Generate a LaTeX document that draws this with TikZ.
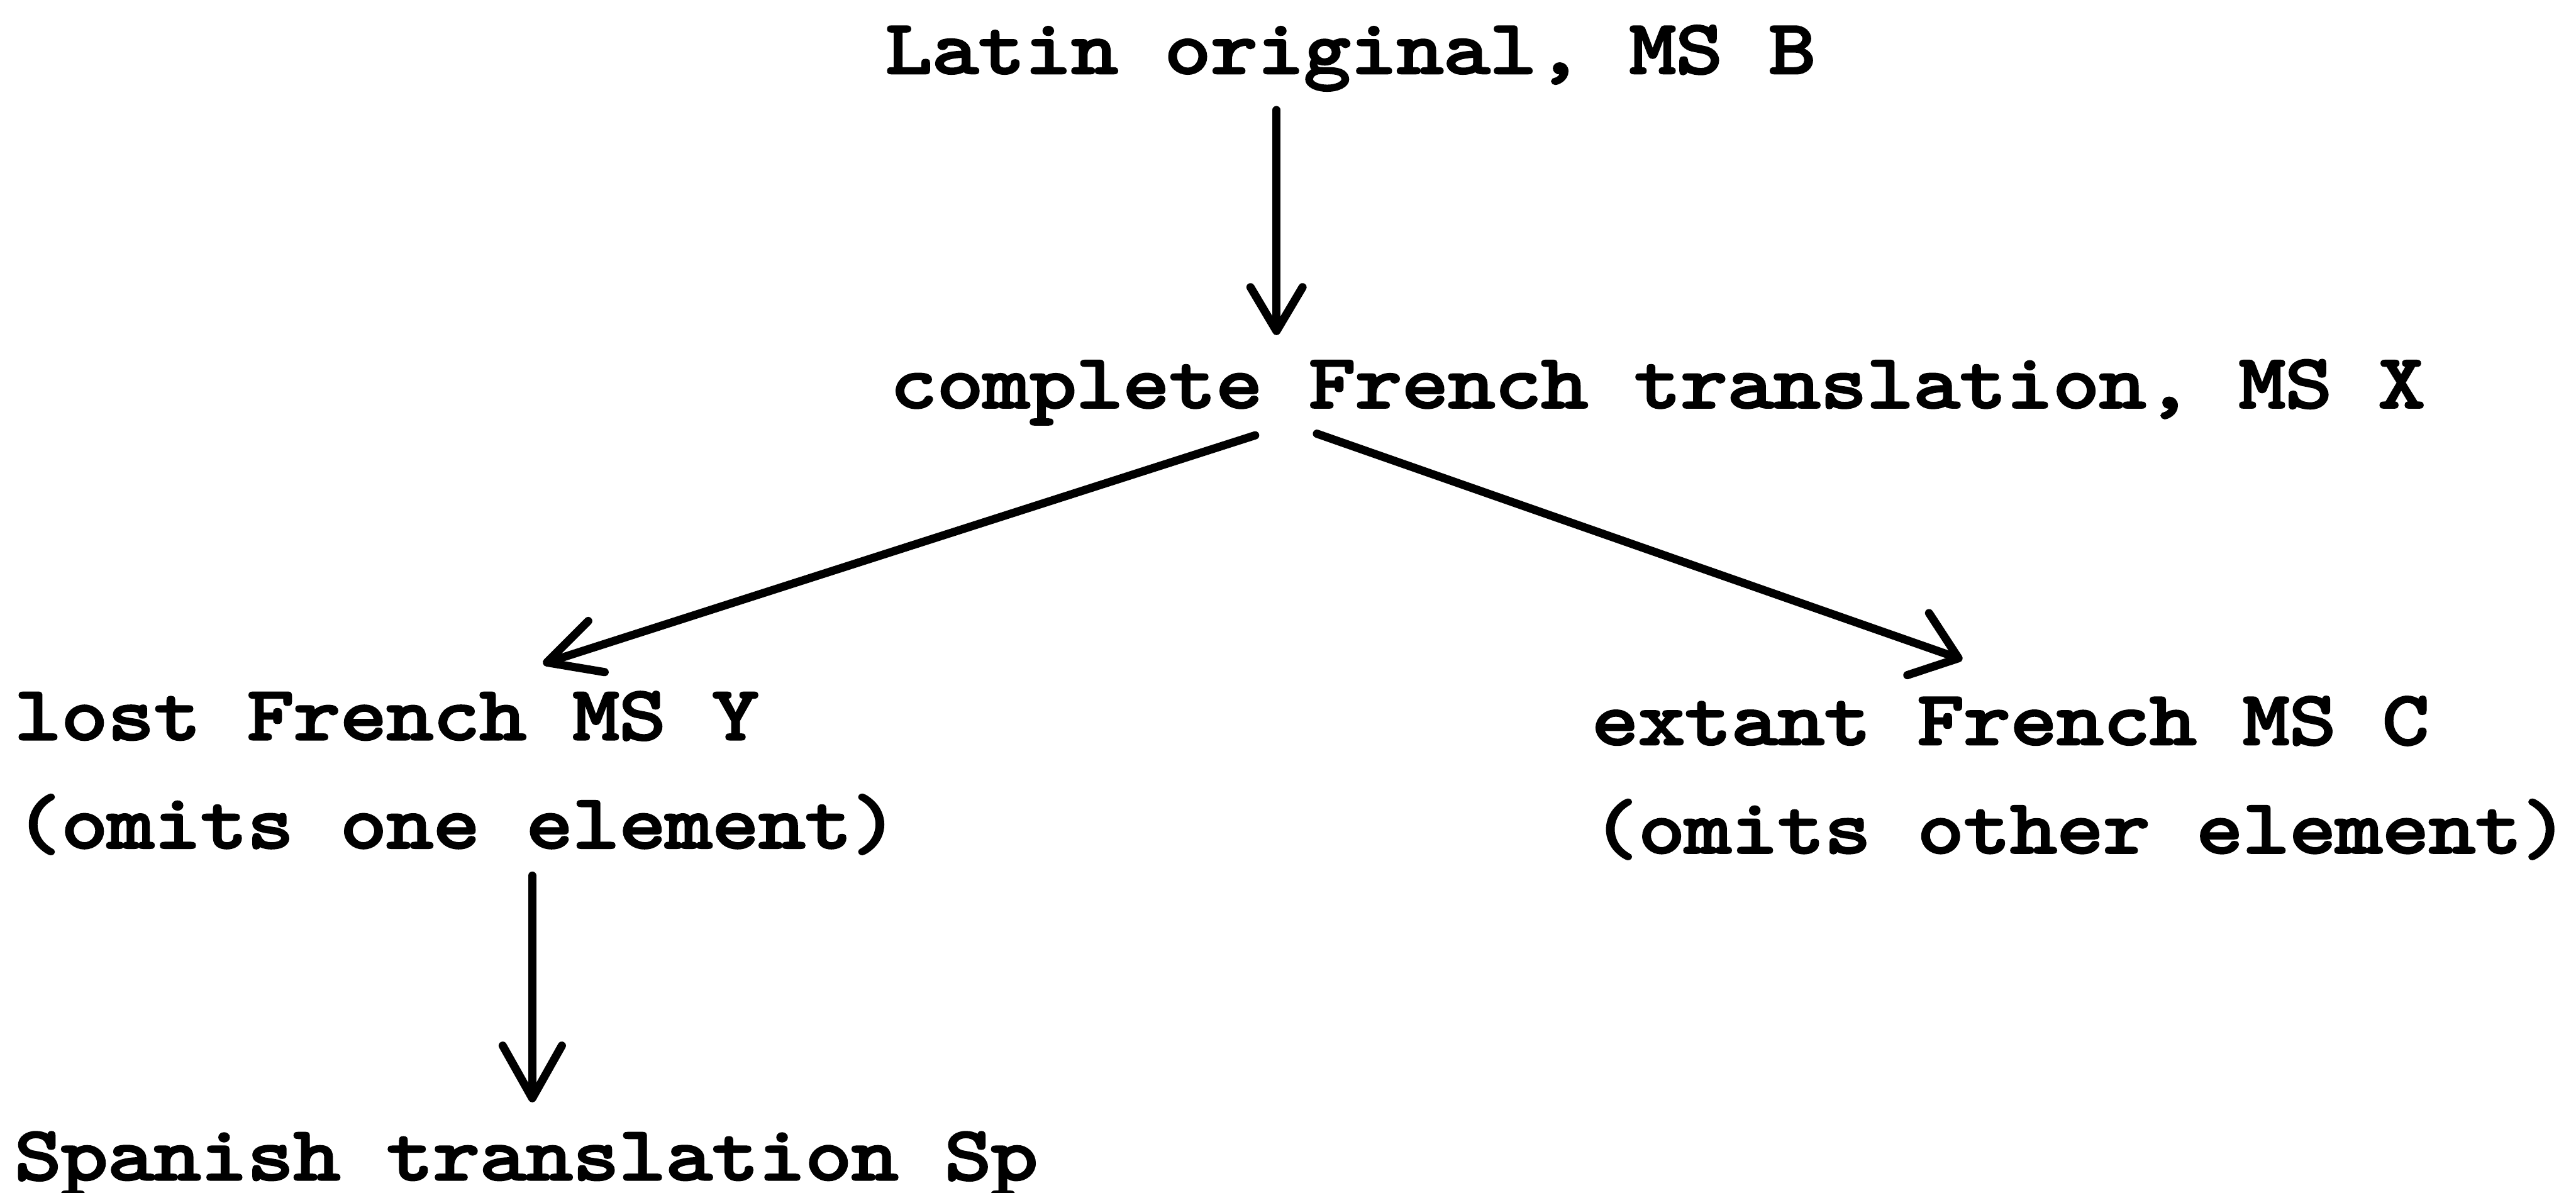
\documentclass[tikz,border=0pt]{standalone}
\usepackage{fontspec}
\newfontfamily\typewriter{lmmono10-regular.otf}[FakeStretch=1.165,FakeBold=3.5]
\usetikzlibrary{arrows.meta,calc}
\begin{document}
\begin{tikzpicture}[x=0.03cm,y=-0.03cm,
  typed/.style={anchor=base west, inner sep=0pt, outer sep=0pt,
    font=\typewriter\fontsize{39.5pt}{48pt}\selectfont},
  link/.style={line width=0.15cm, line cap=round},
  downhead/.style={-{Straight Barb[length=0.8cm,width=0.95cm,round]}},
  longhead/.style={-{Straight Barb[length=0.96cm,width=1.08cm,round]}},
  lefthead/.style={-{Straight Barb[length=0.95cm,width=0.98cm,round]}},
  righthead/.style={-{Straight Barb[length=0.78cm,width=1.2cm,round]}}]
\useasboundingbox (0,0) rectangle (1568,726);

% stemma entries
\node[typed] (latin)    at (539,44.5) {Latin original, MS B};
\node[typed] (complete) at (542,248)  {complete French translation, MS X};
\node[typed] (lostY)    at (9,450)    {lost French MS Y};
\node[typed] (omitsY)   at (9,516)    {(omits one element)};
\node[typed] (extantC)  at (969,453)  {extant French MS C};
\node[typed] (omitsC)   at (969,519)  {(omits other element)};
\node[typed] (spanish)  at (9,718)    {Spanish translation Sp};

% lines of descent
\draw[link,downhead]  ($(latin.base west)+(238,22.5)$)   -- ($(complete.base west)+(235,-44)$);
\draw[link,lefthead]  ($(complete.base west)+(222,17)$)  -- ($(lostY.base west)+(321.5,-46)$);
\draw[link,righthead] ($(complete.base west)+(259.6,16)$) -- ($(extantC.base west)+(225.5,-51.5)$);
\draw[link,longhead]  ($(omitsY.base west)+(315,17)$)    -- ($(spanish.base west)+(315,-47)$);
\end{tikzpicture}
\end{document}
